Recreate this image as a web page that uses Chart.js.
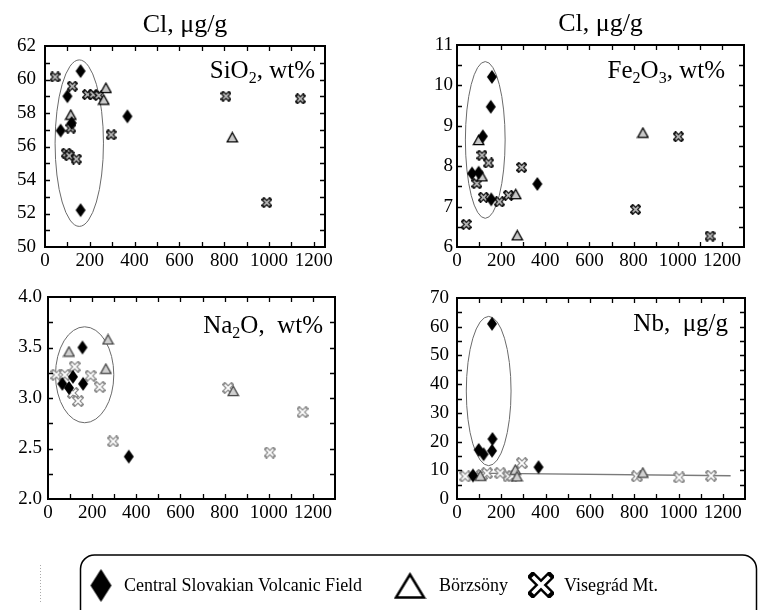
<!DOCTYPE html>
<html>
<head>
<meta charset="utf-8">
<script src="https://cdn.jsdelivr.net/npm/chart.js@4.4.0/dist/chart.umd.min.js"></script>
<style>
  html, body { margin: 0; padding: 0; background: #fff; }
  body { width: 761px; height: 610px; position: relative; overflow: hidden; }
  canvas { position: absolute; }
</style>
</head>
<body>
<canvas id="p-sio2" width="380" height="275" style="left:0;top:0"></canvas>
<canvas id="p-fe2o3" width="381" height="275" style="left:380px;top:0"></canvas>
<canvas id="p-na2o" width="380" height="255" style="left:0;top:275px"></canvas>
<canvas id="p-nb" width="381" height="255" style="left:380px;top:275px"></canvas>
<canvas id="legend" width="761" height="65" style="left:0;top:545px"></canvas>
<script>
const FONT = '"Liberation Serif", "Times New Roman", serif';

// ------- Data (x = Cl, µg/g) -------
// SiO2, wt%
const sio2CentralCl = [159, 100, 119, 70, 368, 159];
const sio2Central   = [60.5, 59.0, 57.4, 56.95, 57.8, 52.2];
const sio2BorzsonyCl = [115, 272, 262, 836];
const sio2Borzsony   = [57.9, 59.5, 58.8, 56.55];
const sio2VisegradCl = [45, 122, 190, 215, 240, 115, 295, 95, 108, 140, 808, 990, 1140];
const sio2Visegrad   = [60.15, 59.6, 59.1, 59.1, 59.05, 57.1, 56.7, 55.6, 55.45, 55.25, 59.0, 52.65, 58.85];

// Fe2O3, wt%
const fe2o3CentralCl = [158, 153, 117, 68, 98, 364, 155];
const fe2o3Central   = [10.21, 9.47, 8.74, 7.82, 7.84, 7.56, 7.18];
const fe2o3BorzsonyCl = [98, 113, 266, 273, 842];
const fe2o3Borzsony   = [8.65, 7.75, 7.31, 6.29, 8.83];
const fe2o3VisegradCl = [113, 143, 293, 90, 120, 192, 233, 42, 809, 1003, 1146];
const fe2o3Visegrad   = [8.27, 8.08, 7.97, 7.57, 7.23, 7.12, 7.28, 6.56, 6.93, 8.73, 6.27];

// Na2O, wt%
const na2oCentralCl = [156, 113, 65, 95, 159, 366];
const na2oCentral   = [3.50, 3.21, 3.14, 3.10, 3.14, 2.42];
const na2oBorzsonyCl = [95, 272, 262, 839];
const na2oBorzsony   = [3.46, 3.58, 3.29, 3.07];
const na2oVisegradCl = [38, 76, 121, 193, 234, 113, 136, 295, 816, 1005, 1153];
const na2oVisegrad   = [3.23, 3.23, 3.31, 3.22, 3.11, 3.05, 2.97, 2.57, 3.10, 2.46, 2.86];

// Nb, µg/g
const nbCentralCl = [158, 98, 120, 160, 158, 72, 368];
const nbCentral   = [61.0, 17.1, 15.6, 20.9, 16.8, 8.2, 11.1];
const nbBorzsonyCl = [105, 263, 271, 839];
const nbBorzsony   = [8.1, 10.2, 7.9, 9.2];
const nbVisegradCl = [37, 113, 135, 195, 233, 250, 293, 812, 1003, 1147];
const nbVisegrad   = [7.9, 8.4, 9.0, 9.0, 7.9, 8.0, 12.5, 7.9, 7.5, 8.1];
const nbTrendCl = [62, 1235];
const nbTrend   = [9.0, 8.1];

// encircled fields: centre and half-axes in data units [cx, cy, rx, ry]
const sio2Field  = [153, 56.2, 108, 4.97];
const fe2o3Field = [128, 8.65, 90, 1.94];
const na2oField  = [166, 3.23, 132, 0.475];
const nbField    = [143, 37.6, 101, 26.0];

// ------- Markers -------
function diamondMarker(w, h) {
  const c = document.createElement('canvas');
  c.width = w + 2; c.height = h + 2;
  const g = c.getContext('2d');
  g.beginPath();
  g.moveTo(c.width / 2, 1);
  g.lineTo(c.width - 1, c.height / 2);
  g.lineTo(c.width / 2, c.height - 1);
  g.lineTo(1, c.height / 2);
  g.closePath();
  g.fillStyle = '#000';
  g.fill();
  return c;
}

function triangleMarker(w, h, lw, stroke, fill) {
  const c = document.createElement('canvas');
  c.width = w + lw * 2; c.height = h + lw * 2;
  const g = c.getContext('2d');
  g.beginPath();
  g.moveTo(c.width / 2, lw);
  g.lineTo(c.width - lw, c.height - lw);
  g.lineTo(lw, c.height - lw);
  g.closePath();
  g.fillStyle = fill; g.fill();
  g.lineWidth = lw; g.strokeStyle = stroke; g.lineJoin = 'miter';
  g.stroke();
  return c;
}

function crossMarker(size, outer, inner, outerW, innerW) {
  const c = document.createElement('canvas');
  c.width = size; c.height = size;
  const g = c.getContext('2d');
  const a = outerW / 2 + 0.5, b = size - a;
  const arms = () => {
    g.beginPath();
    g.moveTo(a, a); g.lineTo(b, b);
    g.moveTo(b, a); g.lineTo(a, b);
  };
  g.lineCap = 'square';
  arms(); g.strokeStyle = outer; g.lineWidth = outerW; g.stroke();
  g.lineCap = 'butt';
  arms(); g.strokeStyle = inner; g.lineWidth = innerW; g.stroke();
  return c;
}

const DIAMOND = diamondMarker(10, 14);
const TRI_DARK = triangleMarker(11, 10, 1.3, '#000', '#c8c8c8');
const TRI_GREY = triangleMarker(11, 10, 1.3, '#444', '#d0d0d0');
const CROSS_DARK = crossMarker(11, '#111', '#bbb', 4.2, 1.6);
const CROSS_GREY = crossMarker(12, '#8a8a8a', '#fff', 4.2, 1.8);

// ------- Panel decoration -------
const panelDecor = {
  id: 'panelDecor',
  beforeDatasetsDraw(chart, args, o) {
    const { ctx, scales: { x, y } } = chart;
    const [cx, cy, rx, ry] = o.field;
    const px = x.getPixelForValue(cx), py = y.getPixelForValue(cy);
    ctx.save();
    ctx.beginPath();
    ctx.ellipse(px, py, Math.abs(x.getPixelForValue(cx + rx) - px), Math.abs(y.getPixelForValue(cy + ry) - py), 0, 0, Math.PI * 2);
    ctx.strokeStyle = '#6a6a6a';
    ctx.lineWidth = 1;
    ctx.stroke();
    ctx.restore();
  },
  afterDraw(chart, args, o) {
    const { ctx, chartArea: a, scales: { x, y } } = chart;
    ctx.save();
    ctx.strokeStyle = '#000';
    ctx.lineWidth = 1.3;
    ctx.beginPath();
    x.ticks.forEach(t => {
      const p = Math.round(x.getPixelForValue(t.value)) + 0.5;
      if (p < a.left + 2 || p > a.right - 2) return;
      ctx.moveTo(p, a.bottom); ctx.lineTo(p, a.bottom - 5);
      ctx.moveTo(p, a.top); ctx.lineTo(p, a.top + 5);
    });
    y.ticks.forEach(t => {
      const p = Math.round(y.getPixelForValue(t.value)) + 0.5;
      if (p < a.top + 2 || p > a.bottom - 2) return;
      ctx.moveTo(a.left, p); ctx.lineTo(a.left + 5, p);
      ctx.moveTo(a.right, p); ctx.lineTo(a.right - 5, p);
    });
    ctx.stroke();
    ctx.lineWidth = 2;
    ctx.strokeRect(a.left, a.top, a.right - a.left, a.bottom - a.top);

    ctx.fillStyle = '#000';
    ctx.textBaseline = 'alphabetic';
    if (o.title) {
      ctx.font = '26px ' + FONT;
      ctx.textAlign = 'center';
      ctx.fillText(o.title, (a.left + a.right) / 2, a.top - 14);
    }
    // label with subscripts: parts = [[text, isSub], ...]
    const big = '25px ' + FONT, small = '16px ' + FONT;
    let w = 0;
    o.label.forEach(([s, sub]) => { ctx.font = sub ? small : big; w += ctx.measureText(s).width; });
    let cur = a.right - o.labelRight - w;
    ctx.textAlign = 'left';
    o.label.forEach(([s, sub]) => {
      ctx.font = sub ? small : big;
      ctx.fillText(s, cur, a.top + o.labelTop + (sub ? 5 : 0));
      cur += ctx.measureText(s).width;
    });
    ctx.restore();
  }
};

function pts(xs, ys) {
  return xs.map((v, i) => ({ x: v, y: ys[i] }));
}

function makePanel(id, p) {
  const datasets = [
    { data: pts(p.central[0], p.central[1]), pointStyle: DIAMOND, order: 1 },
    { data: pts(p.borzsony[0], p.borzsony[1]), pointStyle: p.tri, order: 2 },
    { data: pts(p.visegrad[0], p.visegrad[1]), pointStyle: p.cross, order: 3 }
  ];
  if (p.trend) {
    datasets.push({
      type: 'line', data: pts(p.trend[0], p.trend[1]), borderColor: '#7a7a7a',
      borderWidth: 1.3, pointRadius: 0, order: 4
    });
  }
  return new Chart(document.getElementById(id), {
    type: 'scatter',
    data: { datasets },
    options: {
      responsive: false,
      animation: false,
      devicePixelRatio: 1,
      layout: { padding: p.pad },
      plugins: {
        legend: { display: false },
        tooltip: { enabled: false },
        panelDecor: { field: p.field, title: p.title, label: p.label, labelRight: p.labelRight, labelTop: p.labelTop }
      },
      scales: {
        x: {
          type: 'linear', min: 0, max: p.xMax,
          afterFit: s => { s.height = p.xh; },
          grid: { display: false, drawTicks: false },
          border: { display: false },
          ticks: {
            stepSize: 100, includeBounds: false, autoSkip: false, maxRotation: 0, padding: 3, color: '#000',
            font: { family: FONT, size: 19 },
            callback: v => (v % 200 === 0 ? String(v) : '')
          }
        },
        y: {
          type: 'linear', min: p.yMin, max: p.yMax,
          afterFit: s => { s.width = p.yw; },
          grid: { display: false, drawTicks: false },
          border: { display: false },
          ticks: {
            stepSize: p.yStep, autoSkip: false, padding: p.yPad, color: '#000',
            font: { family: FONT, size: 19 },
            callback: p.yLabel
          }
        }
      }
    },
    plugins: [panelDecor]
  });
}

const isMult = (v, m) => Math.abs(v / m - Math.round(v / m)) < 1e-6;

makePanel('p-sio2', {
  central: [sio2CentralCl, sio2Central],
  borzsony: [sio2BorzsonyCl, sio2Borzsony],
  visegrad: [sio2VisegradCl, sio2Visegrad],
  tri: TRI_DARK, cross: CROSS_DARK, field: sio2Field,
  pad: { top: 46, left: 0, right: 55, bottom: 0 }, yw: 45, xh: 28, yPad: 9,
  xMax: 1250, yMin: 50, yMax: 62, yStep: 1,
  yLabel: v => (isMult(v, 2) ? String(v) : ''),
  title: 'Cl, \u03bcg/g',
  label: [['SiO', 0], ['2', 1], [', wt%', 0]], labelRight: 10, labelTop: 32
});

makePanel('p-fe2o3', {
  central: [fe2o3CentralCl, fe2o3Central],
  borzsony: [fe2o3BorzsonyCl, fe2o3Borzsony],
  visegrad: [fe2o3VisegradCl, fe2o3Visegrad],
  tri: TRI_DARK, cross: CROSS_DARK, field: fe2o3Field,
  pad: { top: 45, left: 32, right: 17, bottom: 0 }, yw: 45, xh: 28, yPad: 4,
  xMax: 1300, yMin: 6, yMax: 11, yStep: 0.5,
  yLabel: v => (isMult(v, 1) ? String(v) : ''),
  title: 'Cl, \u03bcg/g',
  label: [['Fe', 0], ['2', 1], ['O', 0], ['3', 1], [', wt%', 0]], labelRight: 19, labelTop: 33
});

makePanel('p-na2o', {
  central: [na2oCentralCl, na2oCentral],
  borzsony: [na2oBorzsonyCl, na2oBorzsony],
  visegrad: [na2oVisegradCl, na2oVisegrad],
  tri: TRI_GREY, cross: CROSS_GREY, field: na2oField,
  pad: { top: 22, left: 0, right: 45, bottom: 0 }, yw: 48, xh: 31, yPad: 6,
  xMax: 1300, yMin: 2, yMax: 4, yStep: 0.25,
  yLabel: v => (isMult(v, 0.5) ? v.toFixed(1) : ''),
  title: null,
  label: [['Na', 0], ['2', 1], ['O,  wt%', 0]], labelRight: 12, labelTop: 36
});

makePanel('p-nb', {
  central: [nbCentralCl, nbCentral],
  borzsony: [nbBorzsonyCl, nbBorzsony],
  visegrad: [nbVisegradCl, nbVisegrad],
  trend: [nbTrendCl, nbTrend],
  tri: TRI_GREY, cross: CROSS_GREY, field: nbField,
  pad: { top: 23, left: 32, right: 16, bottom: 0 }, yw: 45, xh: 31, yPad: 8,
  xMax: 1300, yMin: 0, yMax: 70, yStep: 5,
  yLabel: v => (isMult(v, 10) ? String(v) : ''),
  title: null,
  label: [['Nb,  \u03bcg/g', 0]], labelRight: 17, labelTop: 33
});

// ------- Legend -------
(function drawLegend() {
  const c = document.getElementById('legend');
  const g = c.getContext('2d');
  const top = 10; // canvas starts at y = 545
  g.strokeStyle = '#000';
  g.lineWidth = 1.5;
  const L = 80.5, R = 756.5, r = 14;
  g.beginPath();
  g.moveTo(L, 70);
  g.lineTo(L, top + r);
  g.arcTo(L, top, L + r, top, r);
  g.lineTo(R - r, top);
  g.arcTo(R, top, R, top + r, r);
  g.lineTo(R, 70);
  g.stroke();

  // faint dotted mark at the far left
  g.strokeStyle = '#aaa'; g.lineWidth = 1; g.setLineDash([1, 2]);
  g.beginPath(); g.moveTo(40.5, 20); g.lineTo(40.5, 58); g.stroke();
  g.setLineDash([]);

  const dia = diamondMarker(21, 33);
  g.drawImage(dia, 101 - dia.width / 2, 40.5 - dia.height / 2);
  const tri = triangleMarker(28, 23, 2.5, '#000', '#fff');
  g.drawImage(tri, 410 - tri.width / 2, 41 - tri.height / 2);
  const crs = crossMarker(26, '#000', '#fff', 8.5, 3.8);
  g.drawImage(crs, 541 - crs.width / 2, 40 - crs.height / 2);

  g.fillStyle = '#000';
  g.font = '18px ' + FONT;
  g.textBaseline = 'alphabetic';
  g.fillText('Central Slovakian Volcanic Field', 124, 46);
  g.fillText('B\u00f6rzs\u00f6ny', 439, 46);
  g.fillText('Visegr\u00e1d Mt.', 564, 46);
})();
</script>
</body>
</html>
